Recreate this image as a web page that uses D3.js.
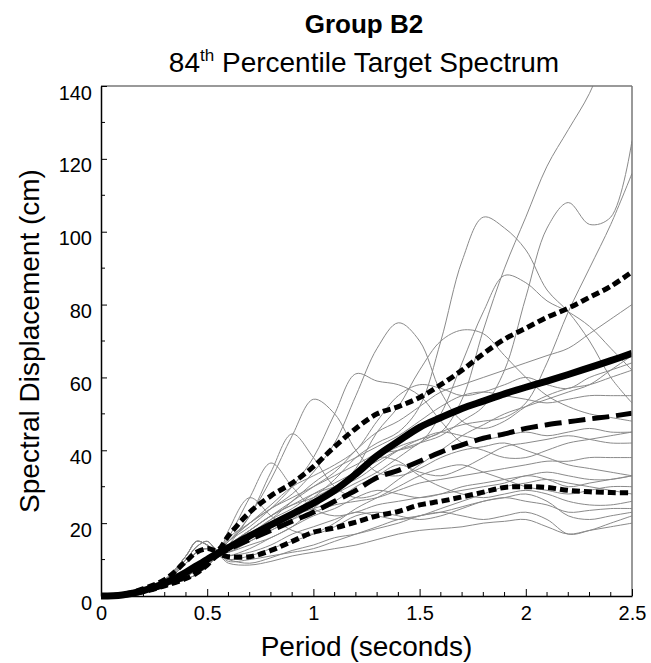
<!DOCTYPE html>
<html><head><meta charset="utf-8">
<script src="https://cdn.jsdelivr.net/npm/d3@7"></script>
<style>body{margin:0;background:#fff}svg{display:block;font-family:"Liberation Sans",Arial,sans-serif}</style>
</head><body>
<svg id="c" width="651" height="663"></svg>
<script>
const titleText = "Group B2";
const subtitleMain = "84";
const subtitleSup = "th";
const subtitleRest = " Percentile Target Spectrum";
const xLabel = "Period (seconds)";
const yLabel = "Spectral Displacement (cm)";
const xTicks = [0, 0.5, 1, 1.5, 2, 2.5];
const xTickLabels = ["0", "0.5", "1", "1.5", "2", "2.5"];
const yTicks = [0, 20, 40, 60, 80, 100, 120, 140];

const periods = [0,0.1,0.2,0.3,0.4,0.45,0.5,0.55,0.6,0.7,0.8,0.9,1.0,1.1,1.2,1.3,1.4,1.5,1.6,1.7,1.8,1.9,2.0,2.1,2.2,2.3,2.4,2.5];

const rec01 = [0,0.3,1.5,3.5,7,9,10.5,11.5, 14,18,22,25, 27,30,34,38,41,43,45,54,73,90,104,118,128,138,152,165];
const rec02 = [0,0.3,1.6,4,9,12,13,11.5, 13,17,20,23, 27,32,38,42,45,52,70,92,104,101,95,84,78,70,60,53];
const rec03 = [0,0.3,1.8,4.5,11,15,14,12, 15,20,24,27, 30,33,36,39,40,42,50,64,78,88,86,81,78,74,68,62];
const rec04 = [0,0.3,1.5,3.5,7,9,10.5,11.5, 13,17,21,24, 28,31,34,37,40,42,44,48,52,62,82,101,108,102,104,125];
const rec05 = [0,0.2,1.3,3,5.5,7,9,11.5, 12,15,18,21, 25,28,31,34,38,42,45,47,48,49,53,64,78,90,102,116];
const rec06 = [0,0.3,1.7,4.2,10,13.5,15,12.5, 16,20,24,28, 34,42,55,68,75,70,56,48,46,48,52,55,57,58,60,62];
const rec07 = [0,0.3,1.8,4.5,11,15,14,12, 15,19,24,30, 38,50,61,59,58,55,48,42,40,38,38,40,42,43,44,45];
const rec08 = [0,0.3,1.6,4,9,12,13,11.5, 14,22,32,44, 54,50,40,34,33,35,38,40,41,42,40,38,36,35,34,33];
const rec09 = [0,0.3,1.7,4.2,10,13.5,15,12.5, 15,22,34,44.5, 38,30,27,28,32,36,40,44,47,50,52,54,56,58,62,66];
const rec10 = [0,0.3,1.8,4.5,11,15,14,12, 16,27,36.5,30, 24,22,23,25,26,27,28,29,30,31,33,32,30,31,32,33];
const rec11 = [0,0.3,1.6,4,9,12,13,11.5, 18,27,22,18, 17,19,22,23,22,21,22,24,26,27,28,26,22,21,22,23];
const rec12 = [0,0.3,1.5,3.5,7,9,10.5,11.5, 13,16,19,22, 25,29,35,45,52,62,70,73,72,66,60,55,52,50,49,48];
const rec13 = [0,0.2,1.2,2.8,4.5,6,8,11, 9,8.5,9.5,11, 12,13,14,15.5,17,18,18.5,19,20,20.5,21,19,17,18,19,20];
const rec14 = [0,0.2,1.3,3,5.5,7,9,11.5, 10,9,10.5,12.5, 14,16,17,18.5,20,22,23,24.5,26,27,26,25,23,23.5,24,24];
const rec15 = [0,0.2,1.2,2.8,4.5,6,8,11, 11,12,14,17, 19,21,23,22,21,22,24,26,28,30,31,32,31,30,29,28];
const rec16 = [0,0.2,1.3,3,5.5,7,9,11.5, 12,14,16,19, 22,24,27,29,28,27,28,30,31,32,33,34,33,32,32,33];
const rec17 = [0,0.3,1.5,3.5,7,9,10.5,11.5, 13,16,19,22, 24,26,30,33,36,34,33,35,38,41,42,43,44,43,42,42];
const rec18 = [0,0.3,1.6,4,9,12,13,11.5, 14,18,22,25, 28,30,32,36,40,43,45,44,43,44,45,44,45,46,45,45];
const rec19 = [0,0.3,1.5,3.5,7,9,10.5,11.5, 13,17,21,26, 31,35,38,41,44,48,52,55,56,55,54,53,54,55,55,55];
const rec20 = [0,0.3,1.7,4.2,10,13.5,15,12.5, 14,18,22,26, 30,34,40,45,48,52,56,58,60,62,64,66,68,72,76,80];
const rec21 = [0,0.2,1.3,3,5.5,7,9,11.5, 12,15,18,21, 23,25,26,27,29,31,32,33,34,35,36,37,37,38,38,38];
const rec22 = [0,0.3,1.8,4.5,11,15,14,12, 15,20,25,30, 33,36,40,48,55,58,57,55,56,58,60,58,57,60,62,64];
const rec23 = [0,0.2,1.2,2.8,4.5,6,8,11, 11,13,16,19, 24,29,34,38,37,33,30,28,27,28,29,28,26,25,25,26];
const rec24 = [0,0.2,1.2,2.8,4.5,6,8,11, 10,11,13,15, 17,20,24,27,30,33,35,36,34,32,30,29,28,29,30,30];
const rec25 = [0,0.2,1.3,3,5.5,7,9,11.5, 9.5,10,11,12, 13,15,17,19,21,22,23,22,21,22,23,21,17,18,20,22];
const records = [rec01,rec02,rec03,rec04,rec05,rec06,rec07,rec08,rec09,rec10,rec11,rec12,rec13,rec14,rec15,rec16,rec17,rec18,rec19,rec20,rec21,rec22,rec23,rec24,rec25];

const meanSpec   = [0,0.3,1.5,3.5,6.5,8.3,10,11.8, 13.3,16.5,19.5,22.5, 25.5,29,33.5,38.5,42.5,46.3,49,51.5,53.5,55.5,57.3,59,60.8,62.7,64.6,66.6];
const medianSpec = [0,0.3,1.3,3,5.3,6.8,8.8,11.2, 12.8,15.5,18,20.5, 23,26,29,32.5,34.5,37,39.5,41.5,43.3,44.5,46,47,47.8,48.6,49.3,50.2];
const p84Spec    = [0,0.4,2,4.5,9.5,12,13,12.6, 16.5,23,27.5,31, 35.5,41,46,50,52,54.5,58,62,66.5,70.5,73.5,76.5,79,82,85,89];
const p16Spec    = [0,0.2,1.2,2.8,4.8,6.3,8.5,11.3, 10.8,10.8,12.5,15, 17.5,18.7,20.3,22,23.2,25,26,27.2,28.5,29.8,30,29.8,29,28.6,28.4,28.3];

const L = 101, R = 632, T = 86, B = 596;
const svg = d3.select("#c");
const x = d3.scaleLinear().domain([0, 2.5]).range([L, R]);
const y = d3.scaleLinear().domain([0, 140]).range([B, T]);

svg.append("defs").append("clipPath").attr("id", "clip")
  .append("rect").attr("x", L - 6).attr("y", T).attr("width", R - L + 6).attr("height", B - T + 6);

const line = d3.line().x((d, i) => x(periods[i])).y(d => y(d)).curve(d3.curveCatmullRom.alpha(0.5));

const g = svg.append("g").attr("clip-path", "url(#clip)");
g.selectAll("path.rec").data(records).join("path").attr("class", "rec")
  .attr("d", line).attr("fill", "none").attr("stroke", "#8a8a8a").attr("stroke-width", 1);

g.append("path").datum(p16Spec).attr("d", line).attr("fill", "none").attr("stroke", "#000").attr("stroke-width", 5).attr("stroke-dasharray", "8,4");
g.append("path").datum(medianSpec).attr("d", line).attr("fill", "none").attr("stroke", "#000").attr("stroke-width", 5).attr("stroke-dasharray", "17,7");
g.append("path").datum(p84Spec).attr("d", line).attr("fill", "none").attr("stroke", "#000").attr("stroke-width", 5).attr("stroke-dasharray", "8,4");
g.append("path").datum(meanSpec).attr("d", line).attr("fill", "none").attr("stroke", "#000").attr("stroke-width", 7);

// frame
svg.append("line").attr("x1", L).attr("x2", R).attr("y1", T).attr("y2", T).attr("stroke", "#777").attr("stroke-width", 1.5);
svg.append("line").attr("x1", R).attr("x2", R).attr("y1", T).attr("y2", B).attr("stroke", "#777").attr("stroke-width", 1.5);

// axes
const xAxis = d3.axisBottom(x).tickValues(xTicks).tickFormat((d, i) => xTickLabels[i]).tickSizeInner(-7).tickSizeOuter(0).tickPadding(10);
const xa = svg.append("g").attr("transform", `translate(0,${B})`).call(xAxis);
const xMinor = d3.range(0, 26).map(i => i / 10).filter(v => !xTicks.some(t => Math.abs(t - v) < 1e-9));
svg.append("g").selectAll("line").data(xMinor).join("line")
  .attr("x1", d => x(d)).attr("x2", d => x(d)).attr("y1", B).attr("y2", B - 4).attr("stroke", "#000");

const yAxis = d3.axisLeft(y).tickValues(yTicks).tickSizeInner(-6).tickSizeOuter(0).tickPadding(9);
const ya = svg.append("g").attr("transform", `translate(${L},0)`).call(yAxis);
const yMinor = d3.range(10, 140, 20);
svg.append("g").selectAll("line").data(yMinor).join("line")
  .attr("x1", L).attr("x2", L + 4).attr("y1", d => y(d)).attr("y2", d => y(d)).attr("stroke", "#000");

[xa, ya].forEach(a => {
  a.select(".domain").attr("stroke", "#000").attr("stroke-width", 1.5);
  a.selectAll(".tick line").attr("stroke", "#000");
  a.selectAll("text").attr("font-size", 20).attr("fill", "#000").attr("font-family", "Liberation Sans, Arial, sans-serif");
});
ya.selectAll("text").attr("dy", "0.65em");

// titles
svg.append("text").attr("x", 364).attr("y", 33).attr("text-anchor", "middle")
  .attr("font-size", 26).attr("font-weight", "bold").text(titleText);
const st = svg.append("text").attr("x", 364).attr("y", 72).attr("text-anchor", "middle").attr("font-size", 28);
st.append("tspan").text(subtitleMain);
st.append("tspan").attr("font-size", 17).attr("dy", -11).text(subtitleSup);
st.append("tspan").attr("dy", 11).text(subtitleRest);

svg.append("text").attr("x", (L + R) / 2).attr("y", 656).attr("text-anchor", "middle").attr("font-size", 28).text(xLabel);
svg.append("text").attr("transform", `translate(39,${(T + B) / 2}) rotate(-90)`).attr("text-anchor", "middle").attr("font-size", 28).text(yLabel);
</script>
</body></html>
